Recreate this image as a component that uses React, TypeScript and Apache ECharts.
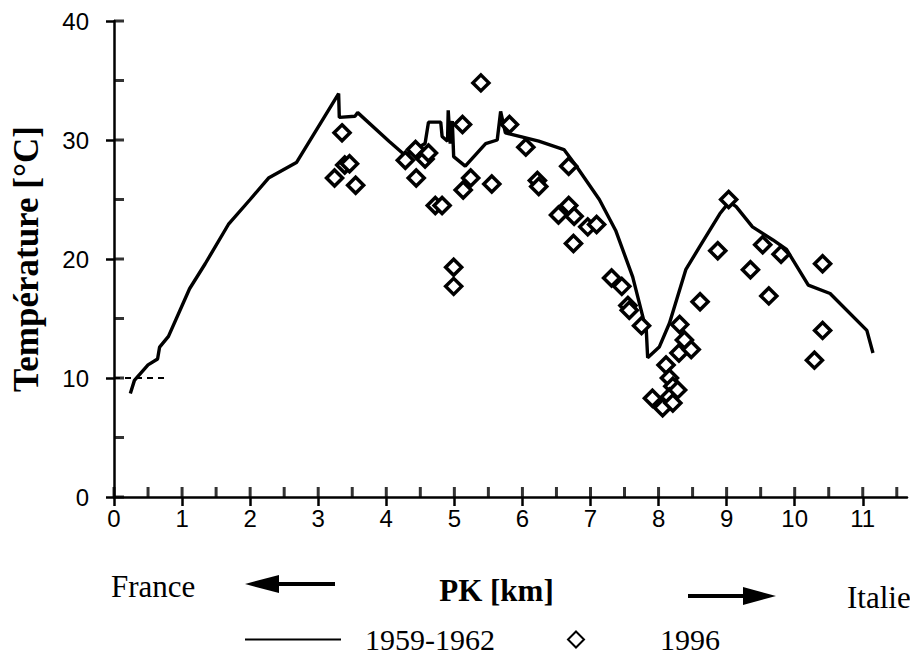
import React, { useEffect, useRef } from "react";
import * as echarts from "echarts";

// 1959-1962 profile: [PK km, °C]
const line5962: [number, number][] = [
  [0.24, 8.7], [0.3, 9.8], [0.5, 11.1], [0.64, 11.6], [0.67, 12.6], [0.8, 13.5],
  [1.11, 17.5], [1.34, 19.6], [1.68, 22.9], [2.0, 25.0], [2.27, 26.8], [2.68, 28.1],
  [3.3, 33.9], [3.31, 31.9], [3.54, 32.0], [3.58, 32.3], [4.04, 29.9], [4.28, 28.7],
  [4.57, 29.7], [4.62, 31.5], [4.8, 31.5], [4.82, 30.3], [4.9, 29.9], [4.91, 32.5],
  [4.94, 29.7], [4.97, 31.6], [4.99, 28.6], [5.16, 27.8], [5.46, 29.7], [5.63, 30.0],
  [5.68, 32.4], [5.75, 30.6], [6.24, 29.9], [6.61, 29.2], [6.78, 27.9], [7.13, 25.0],
  [7.37, 22.4], [7.62, 18.5], [7.82, 14.0], [7.84, 11.7], [8.01, 12.6], [8.16, 14.6],
  [8.4, 19.1], [8.6, 21.0], [8.9, 23.8], [9.04, 24.8], [9.14, 24.4], [9.38, 22.7],
  [9.68, 21.6], [9.88, 20.8], [10.2, 17.8], [10.52, 17.1], [11.06, 14.0], [11.15, 12.1]
];

// reference level at 10 °C (dashed)
const refLevel: [number, number][] = [[0, 10], [0.8, 10]];

// 1996 measurements: [PK km, °C]
const pts1996: [number, number][] = [
  [3.24, 26.8], [3.35, 30.6], [3.39, 27.9], [3.46, 28.0], [3.55, 26.2],
  [4.28, 28.3], [4.43, 29.2], [4.44, 26.8], [4.57, 28.4], [4.62, 28.9],
  [4.72, 24.5], [4.82, 24.5], [4.99, 19.3], [4.99, 17.7], [5.12, 31.3],
  [5.13, 25.8], [5.24, 26.8], [5.39, 34.8], [5.55, 26.3], [5.81, 31.3],
  [6.05, 29.4], [6.22, 26.6], [6.24, 26.1], [6.53, 23.7], [6.68, 27.8],
  [6.68, 24.5], [6.76, 23.6], [6.75, 21.3], [6.96, 22.7], [7.09, 22.9],
  [7.31, 18.4], [7.46, 17.7], [7.55, 16.1], [7.57, 15.7], [7.75, 14.4],
  [7.91, 8.3], [8.06, 7.5], [8.11, 11.1], [8.16, 10.0], [8.21, 9.3],
  [8.16, 8.4], [8.21, 7.9], [8.28, 9.0], [8.3, 12.1], [8.31, 14.5],
  [8.38, 13.2], [8.48, 12.4], [8.61, 16.4], [8.87, 20.7], [9.03, 25.0],
  [9.35, 19.1], [9.53, 21.2], [9.62, 16.9], [9.8, 20.4], [10.29, 11.5],
  [10.41, 14.0], [10.41, 19.6]
];

const xMajor = [0, 1, 2, 3, 4, 5, 6, 7, 8, 9, 10, 11];
const xAll = [0, 0.5, 1, 1.5, 2, 2.5, 3, 3.5, 4, 4.5, 5, 5.5, 6, 6.5, 7, 7.5, 8, 8.5, 9, 9.5, 10, 10.5, 11, 11.5];
const yMajor = [0, 10, 20, 30, 40];
const yAll = [0, 5, 10, 15, 20, 25, 30, 35, 40];

const SERIF = "'Liberation Serif', 'Times New Roman', serif";
const SANS = "'Liberation Sans', Arial, Helvetica, sans-serif";

export default function App() {
  const ref = useRef<HTMLDivElement>(null);
  useEffect(() => {
    if (!ref.current) return;
    const chart = echarts.init(ref.current, null, { renderer: "svg" });
    const axisLine = { show: true, onZero: false, lineStyle: { color: "#000", width: 2.5 } };
    chart.setOption({
      animation: false,
      backgroundColor: "#fff",
      grid: { left: 114, right: 3, top: 21, bottom: 161 },
      xAxis: {
        type: "value",
        min: 0,
        max: 11.65,
        splitLine: { show: false },
        axisLine,
        axisTick: { show: true, inside: false, length: 9, customValues: xMajor, lineStyle: { color: "#000", width: 2.5 } },
        axisLabel: { show: true, customValues: xMajor, margin: 9, color: "#000", fontFamily: SANS, fontSize: 24 },
        name: "PK [km]",
        nameLocation: "middle",
        nameGap: 78,
        nameTextStyle: { fontFamily: SERIF, fontWeight: "bold", fontSize: 31, color: "#000", padding: [0, 28, 0, 0] }
      },
      yAxis: {
        type: "value",
        min: 0,
        max: 40,
        splitLine: { show: false },
        axisLine,
        axisTick: { show: true, inside: false, length: 8, customValues: yMajor, lineStyle: { color: "#000", width: 2.5 } },
        axisLabel: { show: true, customValues: yMajor, margin: 25, color: "#000", fontFamily: SANS, fontSize: 24 },
        name: "Température [°C]",
        nameLocation: "middle",
        nameRotate: 90,
        nameGap: 70,
        nameTextStyle: { fontFamily: SERIF, fontWeight: "bold", fontSize: 35, color: "#000" }
      },
      legend: [
        {
          data: [{ name: "1959-1962", icon: "rect" }],
          left: 245,
          top: 624,
          padding: 0,
          itemWidth: 96,
          itemHeight: 2,
          textStyle: { fontFamily: SERIF, fontSize: 30, lineHeight: 31, color: "#000", padding: [0, 0, 0, 19] }
        },
        {
          data: [{ name: "1996" }],
          left: 567,
          top: 624,
          padding: 0,
          itemWidth: 16,
          itemHeight: 16,
          textStyle: { fontFamily: SERIF, fontSize: 30, lineHeight: 31, color: "#000", padding: [0, 0, 0, 71] }
        }
      ],
      graphic: [
        { type: "text", left: 111, top: 571, style: { text: "France", fontFamily: SERIF, fontSize: 31, fill: "#000" } },
        { type: "text", left: 847, top: 582, style: { text: "Italie", fontFamily: SERIF, fontSize: 31, fill: "#000" } },
        { type: "polygon", shape: { points: [[245, 584], [279, 575], [279, 593]] }, style: { fill: "#000" } },
        { type: "rect", shape: { x: 277, y: 582, width: 58, height: 4 }, style: { fill: "#000" } },
        { type: "rect", shape: { x: 688, y: 594, width: 58, height: 4 }, style: { fill: "#000" } },
        { type: "polygon", shape: { points: [[776, 596], [743, 587], [743, 605]] }, style: { fill: "#000" } }
      ],
      series: [
        {
          type: "scatter",
          name: "xInnerTicks",
          symbol: "rect",
          symbolSize: [3, 10],
          symbolOffset: [0, -5],
          clip: false,
          itemStyle: { color: "#000" },
          data: xAll.map((v) => [v, 0])
        },
        {
          type: "scatter",
          name: "yInnerTicks",
          symbol: "rect",
          symbolSize: [10, 3],
          symbolOffset: [5, 0],
          clip: false,
          itemStyle: { color: "#000" },
          data: yAll.map((v) => [0, v])
        },
        {
          name: "1959-1962",
          type: "line",
          data: line5962,
          symbol: "none",
          showSymbol: false,
          lineStyle: { color: "#000", width: 3.4 },
          itemStyle: { color: "#000" },
          z: 2
        },
        {
          name: "ref",
          type: "line",
          data: refLevel,
          symbol: "none",
          showSymbol: false,
          lineStyle: { color: "#000", width: 2, type: [6, 5] },
          z: 2
        },
        {
          name: "1996",
          type: "scatter",
          data: pts1996,
          symbol: "diamond",
          symbolSize: 16,
          itemStyle: { color: "#fff", borderColor: "#000", borderWidth: 3.5, opacity: 1 },
          z: 3
        }
      ]
    });
    return () => chart.dispose();
  }, []);
  return <div ref={ref} style={{ width: 910, height: 658, position: "absolute", left: 0, top: 0 }} />;
}
